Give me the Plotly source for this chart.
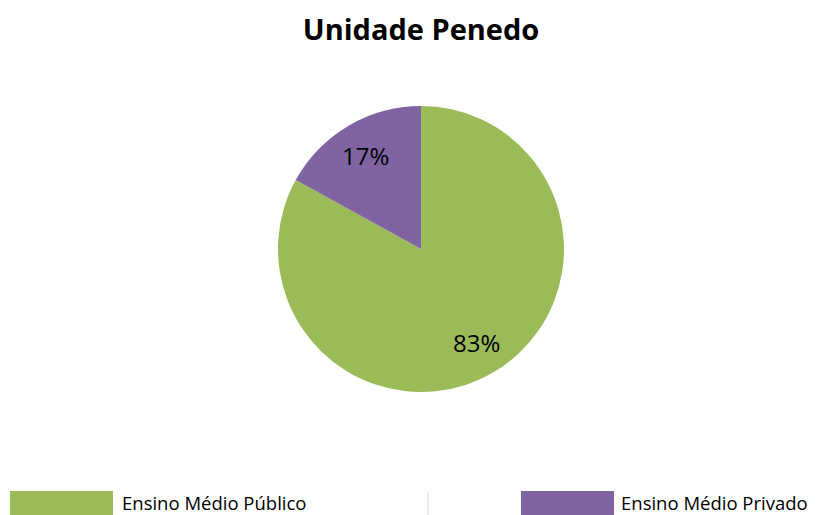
import numpy as np
import plotly.graph_objects as go

labels = ["Ensino Médio Público", "Ensino Médio Privado"]
values = [83, 17]
colors = ["#9BBB59", "#8064A2"]
title = "Unidade Penedo"

# page has an 8px body margin, so figure is drawn at (8,8)
OFF = 8
W, H = 818 - OFF, 515 - OFF
def px(x): return (x - OFF) / W
def py(y): return 1 - (y - OFF) / H

CX, CY, R = 421, 249, 143
fig = go.Figure(go.Pie(
    labels=labels, values=values, sort=False, direction="clockwise", rotation=0,
    marker=dict(colors=colors, line=dict(width=0)),
    textinfo="none",
    domain=dict(x=[px(CX - R), px(CX + R)], y=[py(CY + R), py(CY - R)]),
    showlegend=False, hoverinfo="label+percent",
))

# percentage labels at mid-angle of each slice (Excel-like placement)
vals = np.array(values, dtype=float)
frac = vals / vals.sum()
mids = (np.cumsum(frac) - frac / 2) * 2 * np.pi
for f, a in zip(frac, mids):
    x = CX + 0.76 * R * np.sin(a)
    y = CY - 0.76 * R * np.cos(a)
    fig.add_annotation(text=f"{f*100:.0f}%", xref="paper", yref="paper",
                       x=px(x), y=py(y), xanchor="center", yanchor="middle",
                       showarrow=False,
                       font=dict(family="Open Sans", size=24, color="black"))

# Custom legend (large swatches, bottom-aligned like the reference)
sw = [(10, 113), (521, 614)]
tx = [120, 619]
for i, lab in enumerate(labels):
    fig.add_shape(type="rect", xref="paper", yref="paper",
                  x0=px(sw[i][0]), x1=px(sw[i][1]), y0=-0.05, y1=py(491),
                  fillcolor=colors[i], line=dict(width=0))
    fig.add_annotation(text=lab, xref="paper", yref="paper", x=px(tx[i]), y=py(502),
                       xanchor="left", yanchor="middle", showarrow=False,
                       font=dict(family="Open Sans", size=18.5, color="black"))
fig.add_shape(type="line", xref="paper", yref="paper", x0=px(428), x1=px(428),
              y0=-0.05, y1=py(492), line=dict(color="#D9D9D9", width=1))

fig.update_layout(
    width=W, height=H, margin=dict(l=0, r=0, t=0, b=0),
    paper_bgcolor="white", plot_bgcolor="white",
    title=dict(text="<b>" + title + "</b>", x=px(421), xanchor="center", y=py(30), yanchor="middle",
               font=dict(family="Open Sans", size=29, color="black")),
)
fig.write_html("out.html")
